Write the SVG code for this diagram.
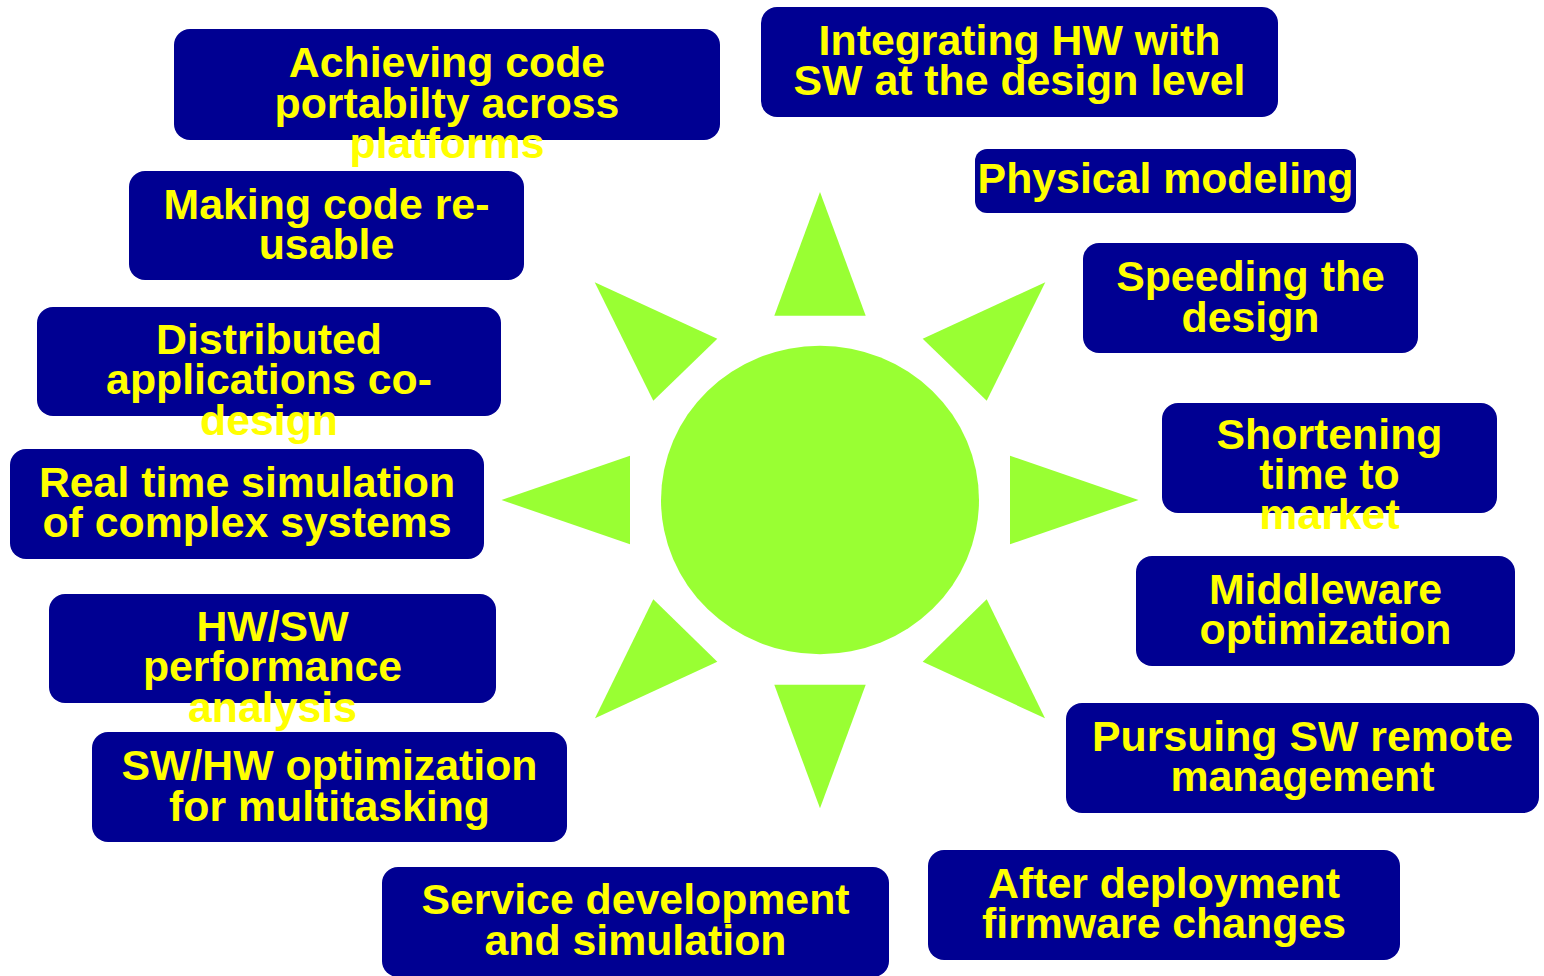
<svg xmlns="http://www.w3.org/2000/svg" width="1544" height="976" viewBox="0 0 1544 976">
<style>
.box{fill:#000092;}
.lbl{fill:#FFFF00;font-family:"Liberation Sans",Arial,sans-serif;font-weight:bold;font-size:42.8px;text-anchor:middle;}
.ray{fill:#99FF33;}
</style>
<rect width="1544" height="976" fill="#FFFFFF"/>
<g id="sun">
<ellipse class="ray" cx="820" cy="500" rx="159" ry="154.3"/>
<polygon class="ray" points="820,192 774.3,315.7 865.7,315.7"/>
<polygon class="ray" points="820,808.3 774.3,684.7 865.7,684.7"/>
<polygon class="ray" points="501.5,500 630,455.7 630,544.3"/>
<polygon class="ray" points="1138.5,500 1010,455.7 1010,544.3"/>
<polygon class="ray" points="594.7,282.3 717.3,338.7 653.3,400.7"/>
<polygon class="ray" points="1045.3,282.3 922.7,338.7 986.7,400.7"/>
<polygon class="ray" points="653.3,599.3 717.3,661.7 595,718.3"/>
<polygon class="ray" points="986.7,599.3 922.7,661.7 1045,718.3"/>
</g>
<g id="connectors"></g>
<g id="n1"><rect class="box" x="174" y="29" width="546" height="111" rx="16"/>
<text class="lbl"><tspan x="447" y="77">Achieving code</tspan><tspan x="447" y="117.5">portabilty across</tspan><tspan x="447" y="158">platforms</tspan></text></g>
<g id="n2"><rect class="box" x="761" y="7" width="517" height="110" rx="16"/>
<text class="lbl"><tspan x="1019.5" y="54.5">Integrating HW with</tspan><tspan x="1019.5" y="95">SW at the design level</tspan></text></g>
<g id="n3"><rect class="box" x="975" y="149" width="381" height="64" rx="12"/>
<text class="lbl"><tspan x="1165.5" y="193">Physical modeling</tspan></text></g>
<g id="n4"><rect class="box" x="129" y="171" width="395" height="109" rx="16"/>
<text class="lbl"><tspan x="326.5" y="218.5">Making code re-</tspan><tspan x="326.5" y="259">usable</tspan></text></g>
<g id="n5"><rect class="box" x="1083" y="243" width="335" height="110" rx="16"/>
<text class="lbl"><tspan x="1250.5" y="291">Speeding the</tspan><tspan x="1250.5" y="331.5">design</tspan></text></g>
<g id="n6"><rect class="box" x="37" y="307" width="464" height="109" rx="16"/>
<text class="lbl"><tspan x="269" y="353.5">Distributed</tspan><tspan x="269" y="394">applications co-</tspan><tspan x="269" y="434.5">design</tspan></text></g>
<g id="n7"><rect class="box" x="1162" y="403" width="335" height="110" rx="16"/>
<text class="lbl"><tspan x="1329.5" y="448.5">Shortening</tspan><tspan x="1329.5" y="488.5">time to</tspan><tspan x="1329.5" y="528.5">market</tspan></text></g>
<g id="n8"><rect class="box" x="10" y="449" width="474" height="110" rx="16"/>
<text class="lbl"><tspan x="247" y="497">Real time simulation</tspan><tspan x="247" y="537">of complex systems</tspan></text></g>
<g id="n9"><rect class="box" x="1136" y="556" width="379" height="110" rx="16"/>
<text class="lbl"><tspan x="1325.5" y="603.5">Middleware</tspan><tspan x="1325.5" y="644">optimization</tspan></text></g>
<g id="n10"><rect class="box" x="49" y="594" width="447" height="109" rx="16"/>
<text class="lbl"><tspan x="272.5" y="641">HW/SW</tspan><tspan x="272.5" y="681">performance</tspan><tspan x="272.5" y="722">analysis</tspan></text></g>
<g id="n11"><rect class="box" x="1066" y="703" width="473" height="110" rx="16"/>
<text class="lbl"><tspan x="1302.5" y="751">Pursuing SW remote</tspan><tspan x="1302.5" y="791">management</tspan></text></g>
<g id="n12"><rect class="box" x="92" y="732" width="475" height="110" rx="16"/>
<text class="lbl"><tspan x="329.5" y="780">SW/HW optimization</tspan><tspan x="329.5" y="820.5">for multitasking</tspan></text></g>
<g id="n13"><rect class="box" x="928" y="850" width="472" height="110" rx="16"/>
<text class="lbl"><tspan x="1164" y="897.5">After deployment</tspan><tspan x="1164" y="938">firmware changes</tspan></text></g>
<g id="n14"><rect class="box" x="382" y="867" width="507" height="110" rx="16"/>
<text class="lbl"><tspan x="635.5" y="914">Service development</tspan><tspan x="635.5" y="954.5">and simulation</tspan></text></g>
</svg>
